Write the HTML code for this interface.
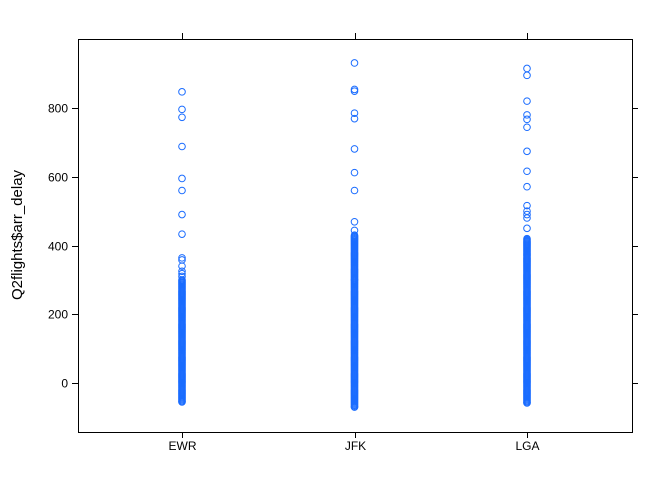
<!DOCTYPE html>
<html><head><meta charset="utf-8">
<style>
html,body{margin:0;padding:0;background:#fff;}
svg{display:block;font-family:"Liberation Sans",Arial,sans-serif;}
</style></head>
<body>
<svg id="chart" width="672" height="480" viewBox="0 0 672 480">
<rect x="0" y="0" width="672" height="480" fill="#fff"/>
<g id="axes"></g>
<g id="points"></g>
<rect x="78.5" y="39.5" width="554" height="393" fill="none" stroke="#000" stroke-width="1"/>
<text x="22" y="235" transform="rotate(-90 22 235)" text-anchor="middle" font-size="15" fill="#000">Q2flights$arr_delay</text>
</svg>
<script>
const categories = ["EWR","JFK","LGA"];
const yTicks = [0,200,400,600,800];
const ewrValues = [847,796,773,688,595,560,490,433,364,358,340,325,318,310,
300,297,294,291,288,285,282,279,276,273,270,267,264,261,258,255,252,249,246,243,240,237,234,231,228,225,222,219,216,213,210,207,204,201,198,195,192,189,186,183,180,177,174,171,168,165,162,159,156,153,150,147,144,141,138,135,132,129,126,123,120,117,114,111,108,105,102,99,96,93,90,87,84,81,78,75,72,69,66,63,60,57,54,51,48,45,42,39,36,33,30,27,24,21,18,15,12,9,6,3,0,-3,-6,-9,-12,-15,-18,-21,-24,-27,-30,-33,-36,-39,-42,-45,-48,-51,-54,-55];
const jfkValues = [931,854,849,785,769,681,612,560,469,444,
430,427,424,421,418,415,412,409,406,403,400,397,394,391,388,385,382,379,376,373,370,367,364,361,358,355,352,349,346,343,340,337,334,331,328,325,322,319,316,313,310,307,304,301,
300,297,294,291,288,285,282,279,276,273,270,267,264,261,258,255,252,249,246,243,240,237,234,231,228,225,222,219,216,213,210,207,204,201,198,195,192,189,186,183,180,177,174,171,168,165,162,159,156,153,150,147,144,141,138,135,132,129,126,123,120,117,114,111,108,105,102,99,96,93,90,87,84,81,78,75,72,69,66,63,60,57,54,51,48,45,42,39,36,33,30,27,24,21,18,15,12,9,6,3,0,-3,-6,-9,-12,-15,-18,-21,-24,-27,-30,-33,-36,-39,-42,-45,-48,-51,-54,-57,-60,-63,-66,-69,-70];
const lgaValues = [915,895,820,780,767,744,674,616,571,516,500,490,480,450,
420,417,414,411,408,405,402,399,396,393,390,387,384,381,378,375,372,369,366,363,360,357,354,351,348,345,342,339,336,333,330,327,324,321,318,315,312,309,306,303,
300,297,294,291,288,285,282,279,276,273,270,267,264,261,258,255,252,249,246,243,240,237,234,231,228,225,222,219,216,213,210,207,204,201,198,195,192,189,186,183,180,177,174,171,168,165,162,159,156,153,150,147,144,141,138,135,132,129,126,123,120,117,114,111,108,105,102,99,96,93,90,87,84,81,78,75,72,69,66,63,60,57,54,51,48,45,42,39,36,33,30,27,24,21,18,15,12,9,6,3,0,-3,-6,-9,-12,-15,-18,-21,-24,-27,-30,-33,-36,-39,-42,-45,-48,-51,-54,-57,-58];
const seriesList = [ewrValues, jfkValues, lgaValues];

const NS = "http://www.w3.org/2000/svg";
const plotLeft = 78, plotRight = 632, plotTop = 39, plotBottom = 432;
function xScale(i){ return 182 + i * 172.5; }
function yScale(v){ return 383 - v * 0.34375; }

const axesG = document.getElementById("axes");
function addLine(x1,y1,x2,y2,name){
  const l = document.createElementNS(NS,"line");
  l.setAttribute("x1",x1);l.setAttribute("y1",y1);l.setAttribute("x2",x2);l.setAttribute("y2",y2);
  l.setAttribute("stroke","#000");l.setAttribute("stroke-width","1");
  
  
  axesG.appendChild(l);
}
function addText(x,y,s,anchor,name){
  const t = document.createElementNS(NS,"text");
  t.setAttribute("x",x);t.setAttribute("y",y);t.setAttribute("text-anchor",anchor);
  t.setAttribute("font-size","12");t.setAttribute("fill","#000");
  t.textContent = s;
  
  
  axesG.appendChild(t);
}
yTicks.forEach(v=>{
  const y = Math.round(yScale(v))+0.5;
  addLine(plotLeft-6,y,plotLeft,y,"y-tick-left");
  addLine(plotRight,y,plotRight+6,y,"y-tick-right");
  addText(plotLeft-10,y+4,String(v),"end","y-tick-label");
});
categories.forEach((c,i)=>{
  const x = Math.round(xScale(i))+0.5;
  addLine(x,plotBottom,x,plotBottom+6,"x-tick-bottom");
  addLine(x,plotTop-6,x,plotTop,"x-tick-top");
  addText(x,plotBottom+18,c,"middle","x-tick-label");
});

const pointsG = document.getElementById("points");
seriesList.forEach((vals,i)=>{
  vals.forEach(v=>{
    const c = document.createElementNS(NS,"circle");
    c.setAttribute("cx",xScale(i));
    c.setAttribute("cy",yScale(v));
    c.setAttribute("r","3.3");
    c.setAttribute("fill","none");
    c.setAttribute("stroke","#1a6cff");
    c.setAttribute("stroke-width","1");
    
    
    pointsG.appendChild(c);
  });
});
</script>
</body></html>
